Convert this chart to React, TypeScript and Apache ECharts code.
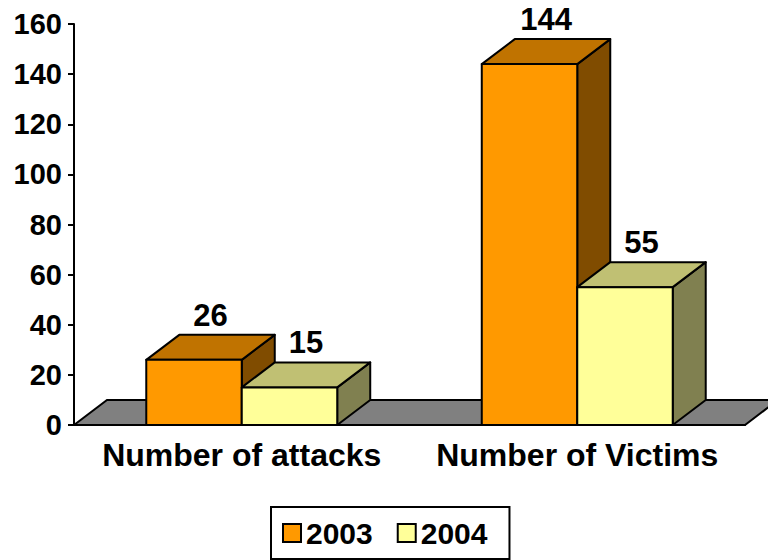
import React, { useEffect, useRef } from "react";
import * as echarts from "echarts";

const categories = ["Number of attacks", "Number of Victims"];
const seriesNames = ["2003", "2004"];
const values2003 = [26, 144];
const values2004 = [15, 55];
const yTicks = { min: 0, max: 160, interval: 20 };

const FONT = '"Liberation Sans", Arial, sans-serif';
const DX = 33;
const DY = 25;
const BAR_FRAC = 0.2846;

const palettes = [
  { front: "#FF9900", top: "#C07300", side: "#804C00" },
  { front: "#FFFF99", top: "#C0C073", side: "#808050" },
];

function makeBarRender(seriesIdx: number) {
  return (params: any, api: any) => {
    const cat = api.value(0);
    const val = api.value(1);
    const band = api.size([1, 0])[0];
    const w = band * BAR_FRAC;
    const center = api.coord([cat, 0]);
    const topPt = api.coord([cat, val]);
    const baseY = center[1];
    const yTop = topPt[1];
    const x0 = seriesIdx === 0 ? center[0] - w : center[0];
    const x1 = x0 + w;
    const pal = palettes[seriesIdx];
    const stroke = { stroke: "#000", lineWidth: 2, lineJoin: "round" };
    return {
      type: "group",
      children: [
        {
          type: "polygon",
          shape: {
            points: [
              [x1, yTop],
              [x1 + DX, yTop - DY],
              [x1 + DX, baseY - DY],
              [x1, baseY],
            ],
          },
          style: { fill: pal.side, ...stroke },
        },
        {
          type: "polygon",
          shape: {
            points: [
              [x0, yTop],
              [x0 + DX, yTop - DY],
              [x1 + DX, yTop - DY],
              [x1, yTop],
            ],
          },
          style: { fill: pal.top, ...stroke },
        },
        {
          type: "rect",
          shape: { x: x0, y: yTop, width: w, height: baseY - yTop },
          style: { fill: pal.front, ...stroke },
        },
        {
          type: "text",
          x: x0 + w / 2 + DX / 2,
          y: yTop - DY - 4,
          style: {
            text: String(val),
            fill: "#000",
            font: `bold 31px ${FONT}`,
            align: "center",
            verticalAlign: "bottom",
          },
        },
      ],
    };
  };
}

function floorRender(params: any, api: any) {
  const cs = params.coordSys;
  const base = cs.y + cs.height;
  return {
    type: "polygon",
    shape: {
      points: [
        [cs.x, base],
        [cs.x + DX, base - DY],
        [cs.x + cs.width + DX, base - DY],
        [cs.x + cs.width, base],
      ],
    },
    style: { fill: "#808080", stroke: "#000", lineWidth: 2 },
  };
}

export default function App() {
  const ref = useRef<HTMLDivElement>(null);
  useEffect(() => {
    if (!ref.current) return;
    const chart = echarts.init(ref.current, null, { renderer: "svg" });
    chart.setOption({
      animation: false,
      backgroundColor: "#fff",
      grid: { left: 74, right: 23, top: 24, bottom: 135, containLabel: false },
      xAxis: {
        type: "category",
        data: categories,
        axisLine: { lineStyle: { color: "#000", width: 2 } },
        axisTick: { length: 6, lineStyle: { color: "#000", width: 2 } },
        axisLabel: {
          color: "#000",
          fontSize: 32,
          fontWeight: "bold",
          fontFamily: FONT,
          margin: 14,
          interval: 0,
        },
      },
      yAxis: {
        type: "value",
        min: yTicks.min,
        max: yTicks.max,
        interval: yTicks.interval,
        splitLine: { show: false },
        axisLine: { show: true, lineStyle: { color: "#000", width: 2 } },
        axisTick: { show: true, length: 6, lineStyle: { color: "#000", width: 2 } },
        axisLabel: {
          color: "#000",
          fontSize: 29,
          fontWeight: "bold",
          fontFamily: FONT,
          margin: 12,
        },
      },
      legend: {
        left: 271,
        top: 507,
        orient: "horizontal",
        borderColor: "#000",
        borderWidth: 2,
        borderRadius: 0,
        padding: [11, 22, 11, 11],
        itemWidth: 18,
        itemHeight: 18,
        itemGap: 24,
        icon: "rect",
        selectedMode: false,
        textStyle: { color: "#000", fontSize: 30, fontWeight: "bold", fontFamily: FONT },
        data: [
          { name: seriesNames[0], itemStyle: { color: palettes[0].front, borderColor: "#000", borderWidth: 2 } },
          { name: seriesNames[1], itemStyle: { color: palettes[1].front, borderColor: "#000", borderWidth: 2 } },
        ],
      },
      series: [
        {
          type: "custom",
          name: "floor",
          silent: true,
          clip: false,
          renderItem: floorRender,
          data: [[0, 0]],
          z: 1,
        },
        {
          type: "custom",
          name: seriesNames[0],
          silent: true,
          clip: false,
          itemStyle: { color: palettes[0].front },
          renderItem: makeBarRender(0),
          data: values2003.map((v, i) => [i, v]),
          z: 2,
        },
        {
          type: "custom",
          name: seriesNames[1],
          silent: true,
          clip: false,
          itemStyle: { color: palettes[1].front },
          renderItem: makeBarRender(1),
          data: values2004.map((v, i) => [i, v]),
          z: 3,
        },
      ],
    });
    return () => chart.dispose();
  }, []);
  return (
    <div
      ref={ref}
      style={{ position: "fixed", left: 0, top: 0, width: 768, height: 560 }}
    />
  );
}
